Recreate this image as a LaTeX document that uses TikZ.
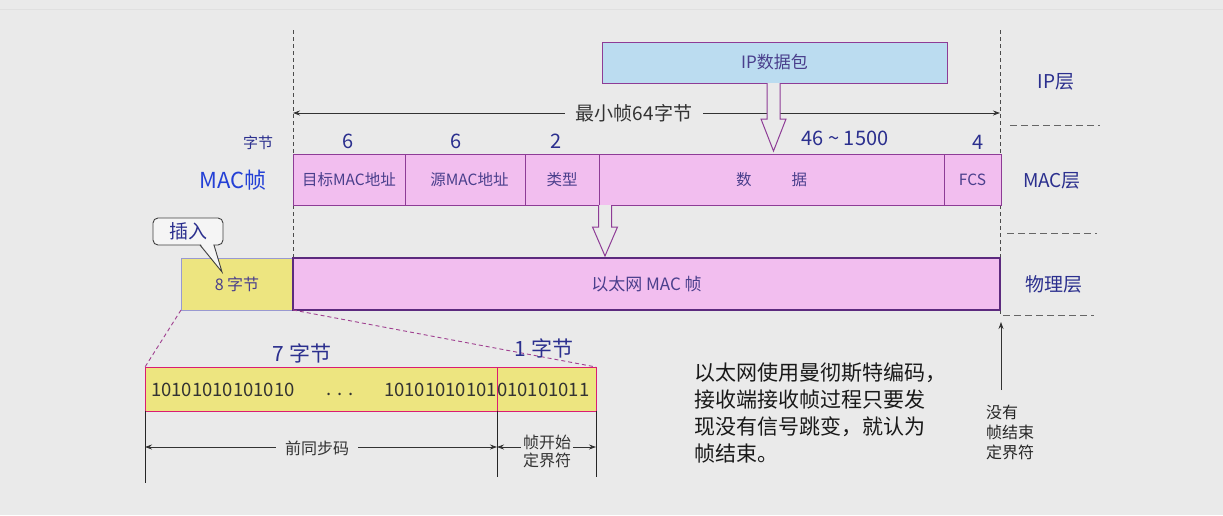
\documentclass[tikz,border=0pt]{standalone}
\usepackage{fontspec}
\setmainfont{Noto Sans CJK SC}
\usetikzlibrary{calc,arrows.meta}
\definecolor{bg}{HTML}{EAEAEA}
\definecolor{pinkfill}{HTML}{F2BEEF}
\definecolor{macline}{HTML}{8E3C96}
\definecolor{phyline}{HTML}{5C2A7E}
\definecolor{ipfill}{HTML}{BBDCF0}
\definecolor{yellowfill}{HTML}{EDE580}
\definecolor{navy}{HTML}{2B2F8E}
\definecolor{boxtext}{HTML}{4A3F8C}
\definecolor{macblue}{HTML}{2440D6}
\definecolor{dashmag}{HTML}{A04090}
\newcommand\fsz[1]{\fontsize{#1}{#1}\selectfont}
% hollow block arrow: centre x, top y, head top y, tip y
\newcommand\hollowdown[4]{%
  \path[fill=bg, draw=macline, line width=1pt, line join=miter]
    (#1-6.5,#2) -- (#1-6.5,#3) -- (#1-12.5,#3) -- (#1,#4) -- (#1+12.5,#3)
    -- (#1+6.5,#3) -- (#1+6.5,#2);}
\begin{document}
\begin{tikzpicture}[x=1pt,y=-1pt,
  every node/.style={inner sep=0pt, outer sep=0pt},
  cell/.style={draw=macline, fill=pinkfill, line width=0.9pt, anchor=north west,
    minimum height=51pt, text=boxtext, font=\fsz{15.5}},
  numlbl/.style={text=navy, font=\fsz{20}},
  layer/.style={text=navy, font=\fsz{19}},
  layerdash/.style={draw=black!60, dash pattern=on 7pt off 4pt, line width=0.9pt},
  guide/.style={draw=black!70, dash pattern=on 4pt off 3pt, line width=0.8pt},
  dim/.style={draw=black!80, line width=0.8pt, {Stealth[length=7pt,width=5pt]}-{Stealth[length=7pt,width=5pt]}},
  dimlbl/.style={fill=bg, inner xsep=9pt, text=black!80, font=\fsz{16}},
  bits/.style={text=black!80, font=\fsz{18.5}},
]
\useasboundingbox (0,0) rectangle (1223,515);
\fill[bg] (0,0) rectangle (1223,515);
\draw[black!12, line width=1pt] (0,9) -- (1223,9);

% vertical guides at the frame limits
\coordinate (gL1) at (293,30);  \coordinate (gL2) at (293,258);
\coordinate (gR1) at (1000,30); \coordinate (gR2) at (1000,315);
\draw[guide] (gL1) -- (gL2);
\draw[guide] (gR1) -- (gR2);

% layer separators and names
\coordinate (s1a) at (1010,125); \coordinate (s1b) at (1100,125);
\coordinate (s2a) at (1007,233); \coordinate (s2b) at (1097,233);
\coordinate (s3a) at (1003,315); \coordinate (s3b) at (1094,315);
\draw[layerdash] (s1a) -- (s1b);
\draw[layerdash] (s2a) -- (s2b);
\draw[layerdash] (s3a) -- (s3b);
\node[layer] (lip)  at (1056,82)  {IP层};
\node[layer] (lmac) at (1052,181) {MAC层};
\node[layer] (lphy) at (1054,284) {物理层};

% IP packet
\node[draw=macline, fill=ipfill, line width=0.9pt, anchor=north west,
  minimum width=345pt, minimum height=41pt, text=boxtext, font=\fsz{17}]
  (ip) at (602,42) {IP数据包};

% minimum frame length
\coordinate (minL) at (293,113); \coordinate (minR) at (1000,113);
\draw[dim] (minL) -- (minR);
\node[dimlbl, inner xsep=11pt, font=\fsz{19}] (minlbl) at (634,113) {最小帧64字节};

\hollowdown{773.5}{83}{119}{151}

% byte counts
\node[text=navy, font=\fsz{15}] (zj) at (258,143) {字节};
\node[numlbl] (n1) at (348,141) {6};
\node[numlbl] (n2) at (456,141) {6};
\node[numlbl] (n3) at (556,141) {2};
\node[numlbl] (n4) at (845,138) {46 \char`\~{} 1500};
\node[numlbl] (n5) at (978,142) {4};

% MAC frame
\node[text=macblue, font=\fsz{22}] (macname) at (233,180) {MAC帧};
\node[cell, minimum width=112pt] (dst)  at (293,154) {目标MAC地址};
\node[cell, minimum width=120pt] (src)  at (405,154) {\hspace{9pt}源MAC地址};
\node[cell, minimum width=74pt]  (typ)  at (525,154) {类型};
\node[cell, minimum width=345pt] (data) at (599,154) {数\hspace{40pt}据\hspace{12pt}};
\node[cell, minimum width=57pt]  (fcs)  at (944,154) {FCS};

\hollowdown{605}{205}{227}{256}

% physical layer frame
\node[draw=black!45!blue!40, fill=yellowfill, line width=0.7pt, anchor=north west,
  minimum width=112pt, minimum height=52pt, text=boxtext, font=\fsz{16}]
  (pre) at (181,258) {8 字节\hspace{14pt}};
\node[draw=phyline, fill=pinkfill, line width=1.5pt, anchor=north west,
  minimum width=707pt, minimum height=52pt, text=boxtext, font=\fsz{17}]
  (eth) at (293,258) {以太网 MAC 帧\hspace{40pt}};

% "insert" callout
\node[draw=black!75, fill=white!96!black, rounded corners=5pt, line width=0.9pt,
  anchor=north west, minimum width=70pt, minimum height=27pt,
  text=navy, font=\fsz{19}] (ins) at (153,218) {插入};
\coordinate (tip) at (222,272);
\fill[white!96!black] (201,244.2) -- (tip) -- (213,244.2) -- cycle;
\draw[black!75, line width=0.9pt] (200,245) -- (tip) -- (214,245);

% zoom lines to the preamble detail
\coordinate (zA) at (145,367); \coordinate (zB) at (596,367);
\draw[dashmag, dash pattern=on 4pt off 3pt, line width=0.9pt] (pre.south west) -- (zA);
\draw[dashmag, dash pattern=on 4pt off 3pt, line width=0.9pt] (pre.south east) -- (zB);

% preamble detail
\node[numlbl, font=\fsz{21}] (b7) at (302,353) {7 字节};
\node[draw=magenta!60!purple, fill=yellowfill, line width=0.8pt, anchor=north west,
  minimum width=352pt, minimum height=44pt] (sync) at (145,367) {};
\node[draw=magenta!60!purple, fill=yellowfill, line width=0.8pt, anchor=north west,
  minimum width=99pt, minimum height=44pt] (sfd) at (497,367) {};
\node[numlbl, font=\fsz{21}] (b1) at (544,348) {1 字节};
\node[bits, anchor=west] (bitsA) at (151,390) {10101010101010};
\node[bits] (dots) at (340,394) {. . .};
\node[bits, anchor=east] (bitsB) at (497,390) {10101010101};
\node[bits, anchor=west] (bitsC) at (497,390) {010101011};

% extents below the detail
\coordinate (vA) at (145,483); \coordinate (vB) at (497,477); \coordinate (vC) at (596,477);
\draw[black!85, line width=0.8pt] (sync.south west) -- (vA);
\draw[black!85, line width=0.8pt] (sync.south east) -- (vB);
\draw[black!85, line width=0.8pt] (sfd.south east) -- (vC);
\coordinate (dA) at (145,447); \coordinate (dB) at (497,447); \coordinate (dC) at (596,447);
\draw[dim] (dA) -- (dB);
\draw[dim] (dB) -- (dC);
\node[dimlbl] (prelbl) at (317,448) {前同步码};
\node[dimlbl, inner xsep=2pt, align=center, font=\fontsize{16}{18}\selectfont] (sfdlbl) at (547,451) {帧开始\\定界符};

% explanation text
\node[anchor=north west, align=left, text=black!90, font=\fontsize{21}{27}\selectfont]
  (note) at (694,363) {以太网使用曼彻斯特编码，\\接收端接收帧过程只要发\\现没有信号跳变，就认为\\帧结束。};

% missing end delimiter
\coordinate (upfoot) at (1001,390); \coordinate (uphead) at (1001,322);
\draw[black!80, line width=0.8pt, -{Stealth[length=7pt,width=5pt]}] (upfoot) -- (uphead);
\node[anchor=north west, align=left, text=black!85, font=\fontsize{16}{20}\selectfont]
  (noend) at (986,405) {没有\\帧结束\\定界符};
\end{tikzpicture}
\end{document}
